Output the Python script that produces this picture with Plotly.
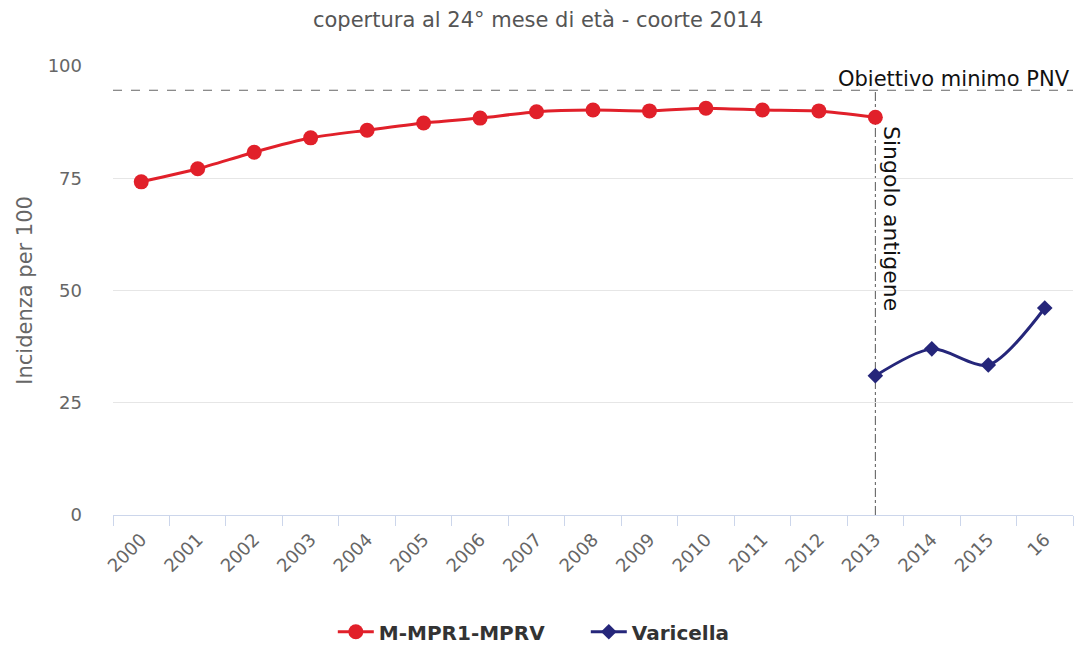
import plotly.graph_objects as go

categories = ["2000", "2001", "2002", "2003", "2004", "2005", "2006", "2007",
              "2008", "2009", "2010", "2011", "2012", "2013", "2014", "2015", "16"]
mpr_years = categories[:14]
mpr_values = [74.2, 77.1, 80.8, 84.0, 85.7, 87.3, 88.4, 89.8, 90.2, 90.0, 90.6, 90.2, 90.0, 88.6]
var_years = ["2013", "2014", "2015", "16"]
var_values = [31.0, 37.0, 33.4, 46.1]
target_value = 94.6
target_label = "Obiettivo minimo PNV"
marker_year = "2013"
marker_label = "Singolo antigene"
title_text = "copertura al 24° mese di età - coorte 2014"
y_title = "Incidenza per 100"
y_ticks = [0, 25, 50, 75, 100]

FONT = "DejaVu Sans"
RED = "#e1202a"
BLUE = "#25267a"

marker_idx = categories.index(marker_year)

fig = go.Figure()
fig.add_trace(go.Scatter(
    x=mpr_years, y=mpr_values, name="M-MPR1-MPRV", mode="lines+markers",
    line=dict(color=RED, width=3, shape="spline", smoothing=0.6),
    marker=dict(color=RED, size=15, symbol="circle"),
))
fig.add_trace(go.Scatter(
    x=var_years, y=var_values, name="Varicella", mode="lines+markers",
    line=dict(color=BLUE, width=3, shape="spline", smoothing=0.8),
    marker=dict(color=BLUE, size=12, symbol="diamond"),
))

# target line
fig.add_shape(type="line", xref="paper", x0=0, x1=1, yref="y", y0=target_value, y1=target_value,
              line=dict(color="#666666", width=1, dash="dash"), layer="below")
fig.add_annotation(xref="paper", x=1, xanchor="right", yref="y", y=target_value, yanchor="bottom",
                   text=target_label, showarrow=False, yshift=-3, xshift=-1,
                   font=dict(family=FONT, size=21, color="#111111"))
# vertical line
fig.add_shape(type="line", xref="x", x0=marker_idx, x1=marker_idx, yref="y", y0=0, y1=target_value,
              line=dict(color="#555555", width=1, dash="dashdot"), layer="below")
fig.add_annotation(xref="x", x=marker_idx, xanchor="left", xshift=1, yref="y", y=87.0, yanchor="top",
                   text=marker_label, textangle=90, showarrow=False,
                   font=dict(family=FONT, size=22, color="#111111"))

fig.update_layout(
    width=1076, height=648,
    paper_bgcolor="white", plot_bgcolor="white",
    margin=dict(l=113, r=3, t=66, b=133, autoexpand=False),
    font=dict(family=FONT, color="#666666"),
    title=dict(text=title_text, x=0.5, xanchor="center", y=0.97, yanchor="middle",
               font=dict(family=FONT, size=21, color="#555555")),
    xaxis=dict(type="category", categoryorder="array", categoryarray=categories,
               range=[-0.5, len(categories) - 0.5],
               tickangle=-45, tickson="boundaries", ticks="outside", ticklen=10,
               tickcolor="#ccd6eb", showline=True, linecolor="#ccd6eb", linewidth=1,
               ticklabelstandoff=6,
               showgrid=False, tickfont=dict(family=FONT, size=18, color="#666666")),
    yaxis=dict(range=[0, 100], tickvals=y_ticks, showgrid=True, gridcolor="#e6e6e6",
               zeroline=False, showline=False, ticks="", ticklabelstandoff=30,
               tickfont=dict(family=FONT, size=18, color="#666666")),
    legend=dict(orientation="h", x=0.4925, xanchor="center", y=-0.26, yanchor="middle",
                font=dict(family=FONT, size=20, color="#333333", weight="bold"),
                itemwidth=36, entrywidth=202),
    showlegend=True,
)
fig.add_annotation(xref="paper", x=-0.0925, xanchor="center", yref="paper", y=0.5, yanchor="middle",
                   text=y_title, textangle=-90, showarrow=False,
                   font=dict(family=FONT, size=21, color="#666666"))

fig.write_html("out.html", config={"displayModeBar": False},
               post_script="document.body.style.margin='0';document.body.style.overflow='hidden';")
